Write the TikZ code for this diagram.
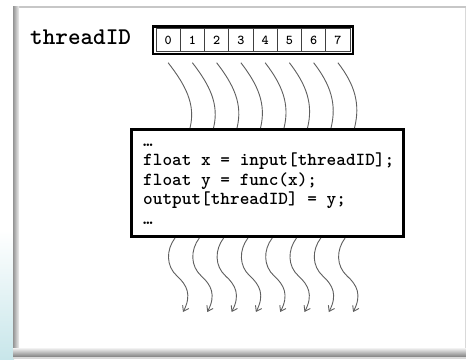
\documentclass[tikz,border=0pt]{standalone}
\usepackage{fontspec}
\usetikzlibrary{arrows.meta,calc}
\definecolor{stripcyan}{RGB}{200,230,234}
\definecolor{wire}{RGB}{95,95,95}
\tikzset{
  label/.style={font=\ttfamily\bfseries\fontsize{24}{26}\selectfont, inner sep=0pt, anchor=base west},
  codeline/.style={font=\ttfamily\bfseries\fontsize{18.4}{20}\selectfont, inner sep=0pt, anchor=base west},
  cell/.style={draw=black!75, line width=0.9pt, minimum width=24.25pt, minimum height=22.5pt,
    inner sep=0pt, font=\ttfamily\bfseries\fontsize{13.5}{14}\selectfont, text=black},
  kernel/.style={draw=black, line width=3pt, minimum width=272pt, minimum height=107pt, inner sep=0pt},
  thread/.style={draw=wire, line width=0.9pt},
  threadout/.style={thread, -{Straight Barb[length=5pt,width=7pt,line width=0.9pt]}},
}
\begin{document}
\begin{tikzpicture}[x=1pt,y=-1pt]
\useasboundingbox (0,0) rectangle (466,359);
% slide card with its bevelled edges
\fill[white] (0,0) rectangle (466,359);
\shade[top color=white, bottom color=stripcyan] (0,230) rectangle (14,359);
\fill[black!22] (14,5.6) rectangle (466,7.6);
\shade[left color=black!42, right color=black!6] (13,6) rectangle (19,356);
\shade[top color=black!5, bottom color=black!48] (13,348) rectangle (466,356.5);
\fill[black!15] (13,356.5) rectangle (466,359);
\draw[black!15, line width=0.8pt] (465,8) -- (465,348);

% thread index label and array
\node[label] (tid) at (30,44) {threadID};
\foreach \i in {0,...,7}
  \node[cell] (c\i) at ({156+24.25*(\i+0.5)}, 40) {\i};
\draw[line width=2.6pt] (153,26.5) rectangle (353,54);

% kernel box with its code
\node[kernel] (code) at (267.5,183) {};
\node[codeline] (l0) at (143,146) {\ldots};
\node[codeline] (l1) at (143,165.5) {float x = input[threadID];};
\node[codeline] (l2) at (143,185) {float y = func(x);};
\node[codeline] (l3) at (143,204.5) {output[threadID] = y;};
\node[codeline] (l4) at (143,224) {\ldots};

% threads entering the kernel
\foreach \i in {0,...,7}{
  \coordinate (ts\i) at ($(c\i.south)+(0,11)$);
  \coordinate (te\i) at ($(code.north west)+({60+23.5*\i},0)$);
  \draw[thread] (ts\i) .. controls ($(ts\i)+(17,22)$) and ($(te\i)+(6,-24)$) .. (te\i);
}
% threads leaving the kernel
\foreach \i in {0,...,7}{
  \coordinate (bs\i) at ($(code.south west)+({45+24.3*\i},0)$);
  \coordinate (bm\i) at ($(bs\i)+(2,38)$);
  \coordinate (bt\i) at ($(bs\i)+(8,74)$);
  \draw[threadout] (bs\i) .. controls ($(bs\i)+(-9,12)$) and ($(bm\i)+(-11,-10)$) .. (bm\i)
     .. controls ($(bm\i)+(10,9)$) and ($(bt\i)+(9,-17)$) .. (bt\i);
}
\end{tikzpicture}
\end{document}
